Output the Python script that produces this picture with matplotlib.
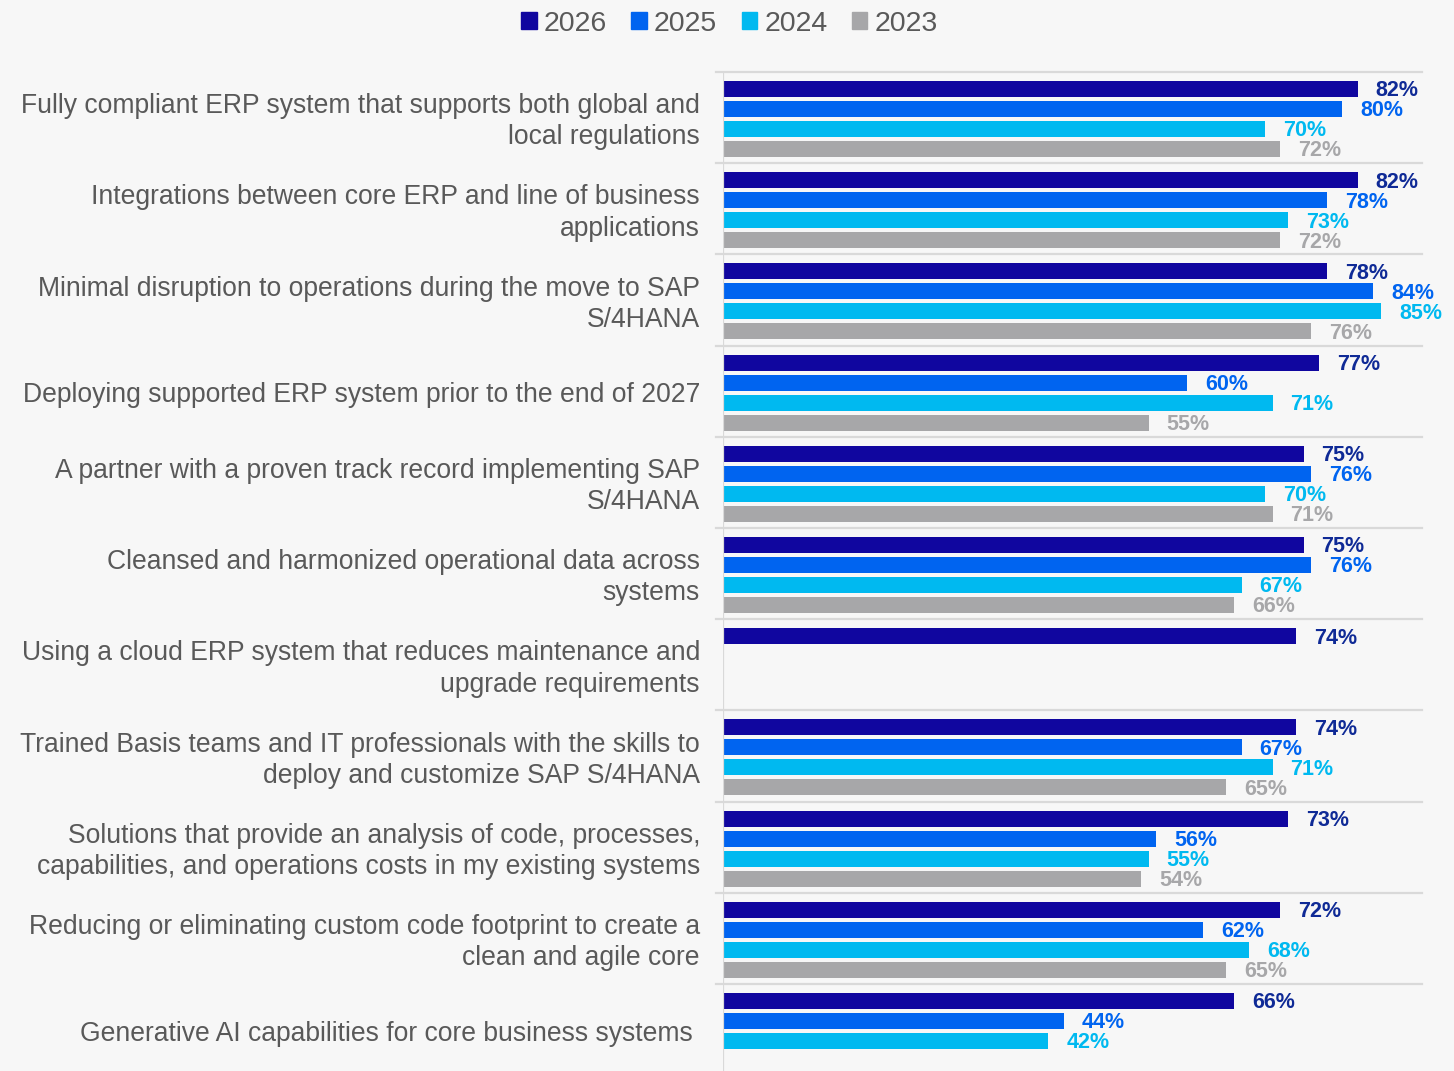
import numpy as np
import matplotlib.pyplot as plt
import matplotlib.transforms as mtransforms
from matplotlib.patches import Patch

plt.rcParams['font.family'] = ['Liberation Sans', 'DejaVu Sans']

categories = [
    "Fully compliant ERP system that supports both global and\nlocal regulations",
    "Integrations between core ERP and line of business\napplications",
    "Minimal disruption to operations during the move to SAP\nS/4HANA",
    "Deploying supported ERP system prior to the end of 2027",
    "A partner with a proven track record implementing SAP\nS/4HANA",
    "Cleansed and harmonized operational data across\nsystems",
    "Using a cloud ERP system that reduces maintenance and\nupgrade requirements",
    "Trained Basis teams and IT professionals with the skills to\ndeploy and customize SAP S/4HANA",
    "Solutions that provide an analysis of code, processes,\ncapabilities, and operations costs in my existing systems",
    "Reducing or eliminating custom code footprint to create a\nclean and agile core",
    "Generative AI capabilities for core business systems ",
]
years = ['2026', '2025', '2024', '2023']
v2026 = [82, 82, 78, 77, 75, 75, 74, 74, 73, 72, 66]
v2025 = [80, 78, 84, 60, 76, 76, None, 67, 56, 62, 44]
v2024 = [70, 73, 85, 71, 70, 67, None, 71, 55, 68, 42]
v2023 = [72, 72, 76, 55, 71, 66, None, 65, 54, 65, None]

bar_colors = ['#10069F', '#0064F0', '#00B9F0', '#A7A7A9']
text_colors = ['#0F2A96', '#0064F0', '#00B9F0', '#A7A7A9']
bg = '#F7F7F7'
grid = '#D9D9D9'

fig = plt.figure(figsize=(14.54, 10.71), dpi=100, facecolor=bg)
ax = fig.add_axes([723 / 1454, 0, 699 / 1454, 999 / 1071], facecolor=bg)

n = len(categories)
group_px = 91.2
bar_h = 16 / group_px
series = [v2026, v2025, v2024, v2023]
for j, vals in enumerate(series):
    for i, v in enumerate(vals):
        if v is None:
            continue
        yc = i + (17 + 20 * j) / group_px
        ax.barh(yc, v, height=bar_h, color=bar_colors[j], left=0)
        ax.annotate(f'{v}%', (v, yc), xytext=(13, -1.4), textcoords='offset points',
                    ha='left', va='center', fontsize=15.5, fontweight='bold',
                    color=text_colors[j])

ax.set_xlim(0, 699 / 7.74)
ax.set_ylim(999 / group_px, 0)

# group separators
trans = mtransforms.blended_transform_factory(ax.transAxes, ax.transData)
for i in range(n):
    ax.plot([-7 / 699, 1], [i, i], transform=trans,
            color=grid, lw=1.6, clip_on=False, zorder=0)
ax.axvline(0, color=grid, lw=1.6, zorder=3)

for i, lab in enumerate(categories):
    ax.text(-23 / 699, i + 0.545, lab, transform=trans, ha='right', va='center',
            fontsize=19.1, color='#595959', linespacing=1.26)

for s in ax.spines.values():
    s.set_visible(False)
ax.set_xticks([])
ax.set_yticks([])

handles = [Patch(color=c, label=y) for c, y in zip(bar_colors, years)]
fig.legend(handles=handles, loc='upper center', bbox_to_anchor=(0.5017, 1.014), ncol=4,
           frameon=False, fontsize=20.5, labelcolor='#595959', handlelength=0.55,
           handleheight=0.55, handletextpad=0.25, columnspacing=0.85)

fig.savefig('out.png', dpi=100, facecolor=bg)
